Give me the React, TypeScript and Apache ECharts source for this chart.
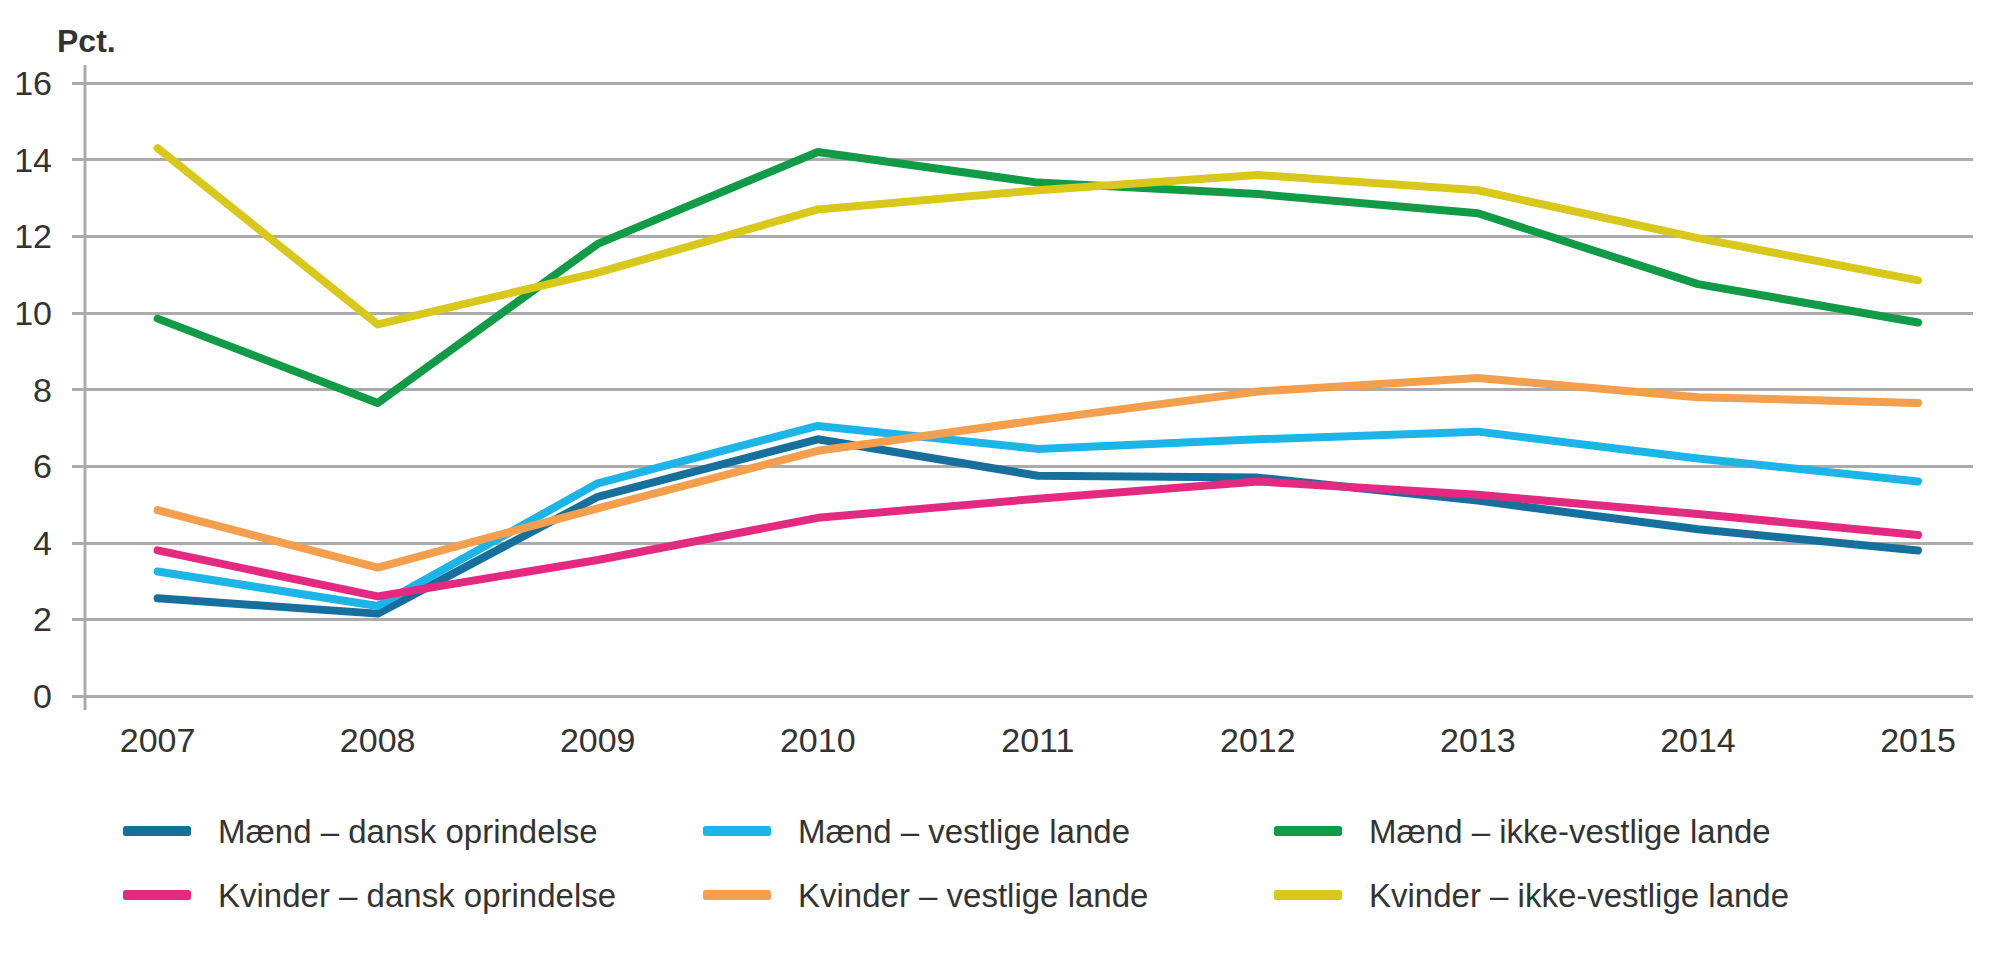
import { useEffect, useRef } from 'react';
import * as echarts from 'echarts';

// ─── Data ─────────────────────────────────────────────────────────────────────

const YEARS = [2007, 2008, 2009, 2010, 2011, 2012, 2013, 2014, 2015];

const MAEND_DANSK = [2.55, 2.15, 5.2, 6.7, 5.75, 5.7, 5.1, 4.35, 3.8];
const MAEND_VESTLIGE = [3.25, 2.35, 5.55, 7.05, 6.45, 6.7, 6.9, 6.2, 5.6];
const MAEND_IKKE_VESTLIGE = [9.85, 7.65, 11.8, 14.2, 13.4, 13.1, 12.6, 10.75, 9.75];
const KVINDER_DANSK = [3.8, 2.6, 3.55, 4.65, 5.15, 5.6, 5.25, 4.75, 4.2];
const KVINDER_VESTLIGE = [4.85, 3.35, 4.9, 6.4, 7.2, 7.95, 8.3, 7.8, 7.65];
const KVINDER_IKKE_VESTLIGE = [14.3, 9.7, 11.05, 12.7, 13.2, 13.6, 13.2, 11.95, 10.85];

const SERIES = [
  { name: 'Mænd – dansk oprindelse', color: '#17709c', data: MAEND_DANSK },
  { name: 'Mænd – vestlige lande', color: '#1db5e8', data: MAEND_VESTLIGE },
  { name: 'Mænd – ikke-vestlige lande', color: '#119b47', data: MAEND_IKKE_VESTLIGE },
  { name: 'Kvinder – dansk oprindelse', color: '#e42a80', data: KVINDER_DANSK },
  { name: 'Kvinder – vestlige lande', color: '#f39f4d', data: KVINDER_VESTLIGE },
  { name: 'Kvinder – ikke-vestlige lande', color: '#d8c81b', data: KVINDER_IKKE_VESTLIGE },
];

const Y_MIN = 0;
const Y_MAX = 16;
const Y_STEP = 2;

// ─── Styling ──────────────────────────────────────────────────────────────────

const FONT = '"Liberation Sans", Arial, sans-serif';
const TEXT = '#333333';
const GRID_GREY = '#ababab';

const GRID = { left: 85, right: 27, top: 83, bottom: 268 };

function legendColumn(names: string[], left: number) {
  return {
    data: names,
    orient: 'vertical',
    left,
    top: 809,
    icon: 'roundRect',
    itemWidth: 68,
    itemHeight: 10,
    itemGap: 30,
    selectedMode: false,
    textStyle: {
      fontFamily: FONT,
      fontSize: 33,
      lineHeight: 34,
      color: TEXT,
      padding: [0, 0, 0, 22],
    },
  };
}

function buildOption(): echarts.EChartsOption {
  return {
    animation: false,
    backgroundColor: '#ffffff',
    title: {
      text: 'Pct.',
      left: 52,
      top: 20,
      textStyle: { fontFamily: FONT, fontSize: 32, fontWeight: 'bold', color: TEXT },
    },
    grid: GRID,
    legend: [
      legendColumn([SERIES[0].name, SERIES[3].name], 118),
      legendColumn([SERIES[1].name, SERIES[4].name], 698),
      legendColumn([SERIES[2].name, SERIES[5].name], 1269),
    ] as any,
    xAxis: {
      type: 'value',
      min: 2006.67,
      max: 2015.25,
      axisLine: { show: false },
      axisTick: { show: false },
      splitLine: { show: false },
      axisLabel: {
        customValues: YEARS,
        formatter: (v: number) => String(v),
        fontFamily: FONT,
        fontSize: 34,
        color: TEXT,
        margin: 27,
      },
    } as any,
    yAxis: {
      type: 'value',
      min: Y_MIN,
      max: Y_MAX,
      interval: Y_STEP,
      axisLine: { show: false },
      axisTick: { show: true, length: 13, lineStyle: { color: GRID_GREY, width: 3 } },
      splitLine: { lineStyle: { color: GRID_GREY, width: 3 } },
      axisLabel: { fontFamily: FONT, fontSize: 34, color: TEXT, margin: 33 },
    },
    graphic: [
      {
        type: 'line',
        shape: { x1: GRID.left, y1: 65, x2: GRID.left, y2: 710 },
        style: { stroke: GRID_GREY, lineWidth: 3 },
        z: 1,
      },
    ],
    series: SERIES.map((s) => ({
      name: s.name,
      type: 'line',
      color: s.color,
      data: YEARS.map((y, i) => [y, s.data[i]]),
      showSymbol: false,
      symbol: 'none',
      lineStyle: { width: 8, color: s.color, cap: 'round', join: 'round' },
      z: 3,
    })),
  };
}

// ─── Component ────────────────────────────────────────────────────────────────

export default function App() {
  const containerRef = useRef<HTMLDivElement>(null);

  useEffect(() => {
    if (!containerRef.current) return;
    const chart = echarts.init(containerRef.current, null, { renderer: 'svg' });
    chart.setOption(buildOption());
    return () => chart.dispose();
  }, []);

  return (
    <div
      ref={containerRef}
      style={{ position: 'absolute', left: 0, top: 0, width: 2000, height: 964, background: '#fff' }}
    />
  );
}
